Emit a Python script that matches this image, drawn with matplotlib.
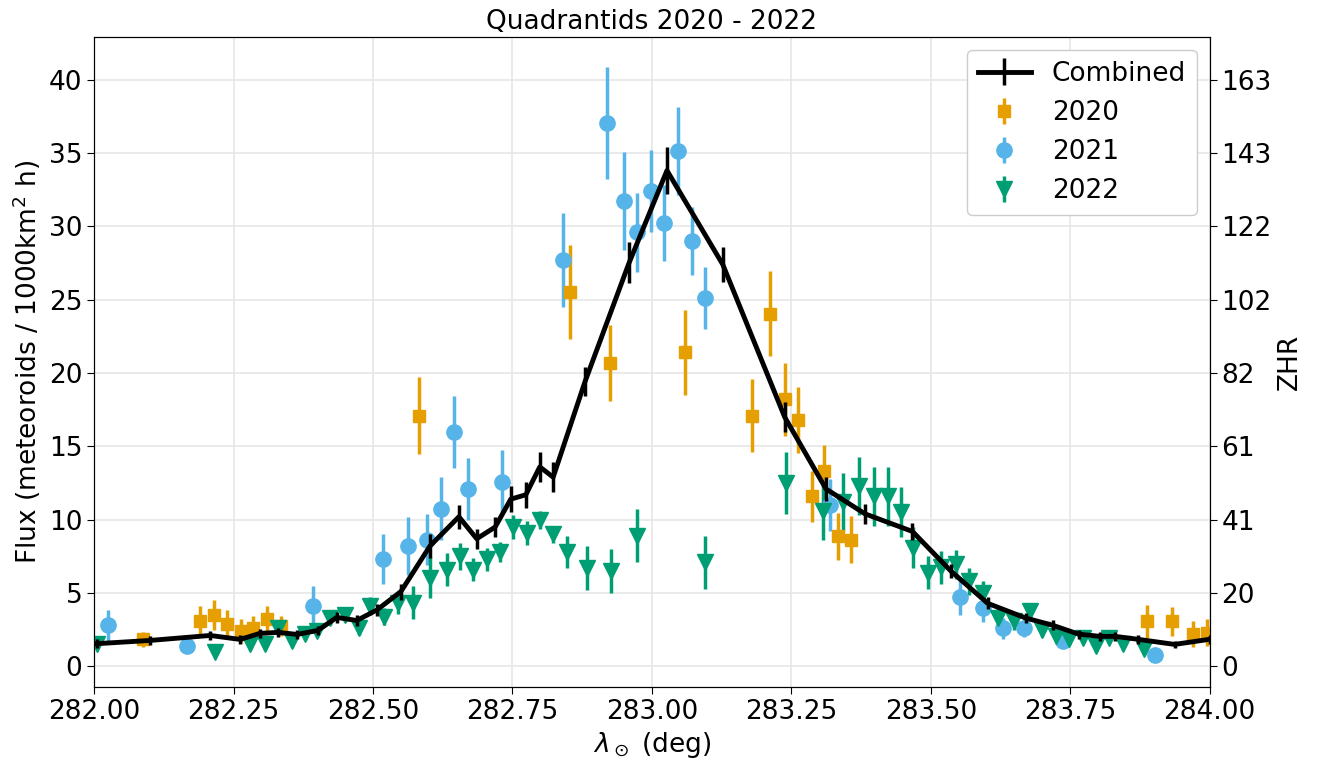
import matplotlib
matplotlib.use("Agg")
import matplotlib.pyplot as plt
import numpy as np

# Combined
comb_x = [282.005, 282.100, 282.208, 282.262, 282.297, 282.330, 282.364, 282.401, 282.435, 282.471,
          282.507, 282.550, 282.602, 282.654, 282.686, 282.719, 282.747, 282.774, 282.799, 282.823,
          282.880, 282.959, 283.027, 283.127, 283.238, 283.312, 283.382, 283.467, 283.536, 283.602,
          283.670, 283.719, 283.765, 283.803, 283.830, 283.871, 283.937, 284.000]
comb_y = [1.55, 1.77, 2.11, 1.84, 2.25, 2.32, 2.18, 2.45, 3.34, 3.13,
          3.85, 5.1, 8.2, 10.2, 8.7, 9.5, 11.4, 11.7, 13.6, 12.9,
          19.4, 27.5, 33.8, 27.4, 17.0, 12.1, 10.4, 9.2, 6.5, 4.3,
          3.3, 2.8, 2.2, 2.05, 2.05, 1.85, 1.5, 1.85]
comb_e = [0.3, 0.3, 0.3, 0.3, 0.3, 0.3, 0.3, 0.3, 0.35, 0.35,
          0.4, 0.55, 0.8, 0.8, 0.7, 0.7, 0.9, 0.9, 1.0, 1.0,
          1.0, 1.4, 1.6, 1.2, 1.0, 0.8, 0.7, 0.6, 0.5, 0.4,
          0.35, 0.35, 0.3, 0.3, 0.3, 0.3, 0.25, 0.3]

# 2020
x20 = [282.088, 282.190, 282.215, 282.238, 282.263, 282.285, 282.310, 282.335,
       282.582, 282.853, 282.925, 283.060, 283.180, 283.212, 283.238, 283.262,
       283.287, 283.308, 283.333, 283.357, 283.887, 283.932, 283.970, 283.995]
y20 = [1.84, 3.07, 3.5, 2.86, 2.4, 2.65, 3.2, 2.75,
       17.1, 25.5, 20.7, 21.4, 17.1, 24.05, 18.2, 16.8,
       11.6, 13.3, 8.86, 8.65, 3.07, 3.07, 2.2, 2.3]
e20 = [0.5, 1.05, 1.05, 1.0, 0.8, 0.8, 0.95, 0.7,
       2.6, 3.2, 2.6, 2.9, 2.5, 2.9, 2.5, 2.25,
       1.75, 1.8, 1.6, 1.6, 1.1, 1.0, 0.9, 0.9]

# 2021
x21 = [282.025, 282.167, 282.392, 282.518, 282.563, 282.597, 282.622, 282.645, 282.670,
       282.731, 282.840, 282.919, 282.950, 282.973, 282.998, 283.022, 283.047, 283.072,
       283.095, 283.320, 283.552, 283.593, 283.629, 283.667, 283.737, 283.901]
y21 = [2.8, 1.36, 4.1, 7.35, 8.2, 8.65, 10.75, 15.95, 12.1,
       12.55, 27.7, 37.05, 31.7, 29.6, 32.4, 30.2, 35.1, 29.0,
       25.1, 11.0, 4.7, 4.0, 2.6, 2.6, 1.7, 0.75]
e21 = [1.05, 0.3, 1.35, 1.7, 2.0, 1.75, 2.15, 2.45, 2.1,
       2.2, 3.2, 3.8, 3.35, 2.7, 2.8, 2.6, 3.0, 2.3,
       2.1, 1.8, 1.2, 1.0, 0.7, 0.6, 0.4, 0.3]

# 2022
x22 = [282.005, 282.217, 282.280, 282.306, 282.330, 282.355, 282.378, 282.400, 282.423,
       282.450, 282.475, 282.495, 282.520, 282.545, 282.571, 282.602, 282.632, 282.656,
       282.680, 282.704, 282.728, 282.751, 282.776, 282.800, 282.823, 282.848, 282.883,
       282.926, 282.973, 283.095, 283.240, 283.307, 283.342, 283.371, 283.398, 283.423,
       283.447, 283.468, 283.495, 283.518, 283.545, 283.568, 283.593, 283.620, 283.650,
       283.677, 283.700, 283.724, 283.747, 283.772, 283.797, 283.820, 283.845, 283.883]
y22 = [1.5, 1.0, 1.5, 1.5, 2.65, 1.7, 2.2, 2.4, 3.3,
       3.5, 2.65, 4.1, 3.4, 4.35, 4.35, 6.05, 6.6, 7.5,
       6.6, 7.3, 7.8, 9.5, 9.1, 10.0, 9.0, 7.8, 6.7,
       6.5, 8.9, 7.1, 12.5, 10.6, 11.2, 12.3, 11.6, 11.6,
       10.55, 8.1, 6.4, 6.75, 6.95, 5.8, 5.0, 3.3, 3.1,
       3.75, 2.5, 2.05, 1.84, 1.97, 1.36, 1.97, 1.5, 1.16]
e22 = [0.3, 0.3, 0.4, 0.4, 0.5, 0.4, 0.4, 0.4, 0.5,
       0.5, 0.5, 0.6, 0.6, 0.8, 1.15, 1.4, 1.1, 0.9,
       0.8, 0.8, 0.7, 0.8, 0.8, 0.6, 0.6, 1.1, 1.5,
       1.5, 1.8, 1.8, 2.1, 2.0, 2.0, 2.0, 2.0, 2.0,
       1.7, 1.4, 1.1, 1.1, 1.0, 0.9, 0.8, 0.7, 0.6,
       0.6, 0.5, 0.4, 0.4, 0.4, 0.35, 0.35, 0.35, 0.35]

zhr_ticks = [0, 5, 10, 15, 20, 25, 30, 35, 40]
zhr_factor = 4.08

fig = plt.figure(figsize=(13.25, 7.71), dpi=100)
ax = fig.add_axes([0.071, 0.109, 0.842, 0.843])
fs = 19

h20 = ax.errorbar(x20, y20, yerr=e20, fmt='s', color='#E69F00', ms=9, elinewidth=2.5, capsize=0, label='2020', zorder=3)
h21 = ax.errorbar(x21, y21, yerr=e21, fmt='o', color='#56B4E9', ms=11, elinewidth=2.5, capsize=0, label='2021', zorder=3)
h22 = ax.errorbar(x22, y22, yerr=e22, fmt='v', color='#009E73', ms=11, elinewidth=2.5, capsize=0, label='2022', zorder=3)
hc = ax.errorbar(comb_x, comb_y, yerr=comb_e, fmt='-', color='black', lw=3.5, elinewidth=2.5, capsize=0, label='Combined', zorder=4)

ax.set_xlim(282.0, 284.0)
ax.set_ylim(-1.4, 42.9)
ax.set_xticks([282.0, 282.25, 282.5, 282.75, 283.0, 283.25, 283.5, 283.75, 284.0])
ax.set_xticklabels([f"{v:.2f}" for v in ax.get_xticks()])
ax.set_yticks(zhr_ticks)
ax.grid(True, color='#e6e6e6', lw=1.2)
ax.set_axisbelow(True)
ax.tick_params(labelsize=fs, length=5)
ax.set_xlabel(r'$\lambda_\odot$ (deg)', fontsize=fs)
ax.set_ylabel(r'Flux (meteoroids / 1000km$^2$ h)', fontsize=fs)
ax.set_title('Quadrantids 2020 - 2022', fontsize=fs)

ax2 = ax.twinx()
ax2.set_ylim(ax.get_ylim())
ax2.set_yticks(zhr_ticks)
ax2.set_yticklabels([str(int(round(t * zhr_factor))) for t in zhr_ticks])
ax2.tick_params(labelsize=fs, length=5)
ax2.set_ylabel('ZHR', fontsize=fs)

ax.legend([hc, h20, h21, h22], ['Combined', '2020', '2021', '2022'], loc='upper right', fontsize=fs,
          framealpha=1.0)

fig.savefig('out.png', dpi=100)
